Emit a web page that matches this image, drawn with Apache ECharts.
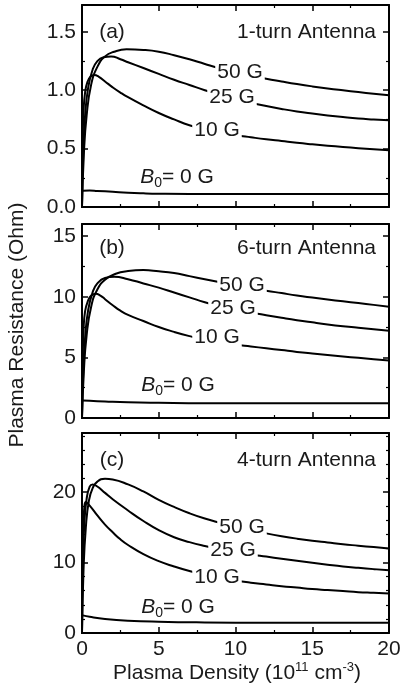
<!DOCTYPE html>
<html><head><meta charset="utf-8">
<script src="https://cdn.jsdelivr.net/npm/echarts@6/dist/echarts.min.js"></script>
<style>html,body{margin:0;padding:0;background:#fff}#c{width:404px;height:690px}</style>
</head><body><div id="c"></div>
<script>
// ---- data (x: plasma density 1e11 cm^-3, y: plasma resistance Ohm) ----
const xTicks = [0, 5, 10, 15, 20];
// panel (a) 1-turn antenna
const a0  = [[0.05,0.14],[0.5,0.142],[1,0.138],[2,0.13],[3,0.122],[4,0.117],[5,0.114],[7,0.112],[10,0.112],[20,0.112]];
const a10 = [[0,0],[0.04,0.55],[0.1,0.82],[0.2,0.98],[0.35,1.07],[0.55,1.115],[0.8,1.13],[1.1,1.115],[1.5,1.075],[2,1.025],[2.5,0.98],[3,0.94],[4,0.87],[5,0.805],[6,0.75],[7,0.70],[8,0.665],[9,0.637],[10,0.615],[11,0.597],[12,0.58],[13,0.565],[14,0.55],[15,0.537],[16,0.525],[17,0.514],[18,0.504],[19,0.495],[20,0.486]];
const a25 = [[0,0],[0.08,0.45],[0.2,0.78],[0.4,1.02],[0.7,1.18],[1.0,1.25],[1.4,1.283],[1.9,1.29],[2.5,1.265],[3,1.24],[4,1.19],[5,1.14],[6,1.09],[7,1.045],[8,1.0],[9,0.96],[10,0.925],[11,0.893],[12,0.865],[13,0.84],[14,0.818],[15,0.80],[16,0.784],[17,0.77],[18,0.758],[19,0.75],[20,0.743]];
const a50 = [[0,0],[0.12,0.45],[0.3,0.78],[0.6,1.05],[1.0,1.2],[1.5,1.29],[2.1,1.33],[2.9,1.35],[4,1.345],[5,1.33],[6,1.30],[7,1.265],[8,1.225],[9,1.187],[10,1.155],[11,1.125],[12,1.098],[13,1.075],[14,1.053],[15,1.033],[16,1.015],[17,0.999],[18,0.984],[19,0.970],[20,0.957]];
// panel (b) 6-turn antenna
const b0  = [[0.05,1.45],[0.5,1.42],[1.5,1.36],[3,1.29],[5,1.25],[8,1.22],[20,1.22]];
const b10 = [[0,0],[0.04,4.5],[0.1,7.2],[0.2,8.8],[0.4,9.7],[0.6,10.1],[0.9,10.25],[1.2,10.1],[1.5,9.8],[2,9.3],[2.5,8.85],[3,8.5],[4,8.0],[5,7.5],[6,7.1],[7,6.75],[8,6.45],[9,6.22],[10,6.05],[11,5.9],[12,5.75],[13,5.6],[14,5.45],[15,5.32],[16,5.2],[17,5.08],[18,4.96],[19,4.85],[20,4.75]];
const b25 = [[0,0],[0.08,3.8],[0.2,6.6],[0.4,8.9],[0.7,10.4],[1.0,11.1],[1.5,11.55],[2.1,11.65],[3,11.45],[4,11.1],[5,10.75],[6,10.35],[7,9.95],[8,9.55],[9,9.22],[10,8.95],[11,8.7],[12,8.48],[13,8.27],[14,8.07],[15,7.89],[16,7.72],[17,7.57],[18,7.44],[19,7.32],[20,7.2]];
const b50 = [[0,0],[0.12,3.8],[0.3,6.8],[0.6,9.2],[1.0,10.6],[1.5,11.4],[2.2,11.9],[3,12.12],[4,12.2],[5,12.1],[6,11.95],[7,11.7],[8,11.45],[9,11.2],[10,10.95],[11,10.72],[12,10.5],[13,10.3],[14,10.1],[15,9.93],[16,9.77],[17,9.62],[18,9.48],[19,9.33],[20,9.18]];
// panel (c) 4-turn antenna
const c0  = [[0.05,2.5],[0.5,2.3],[1.5,2.0],[3,1.75],[5,1.6],[8,1.5],[12,1.45],[20,1.45]];
const c10 = [[0,0],[0.03,10],[0.08,15],[0.15,17.8],[0.25,18.6],[0.5,18.1],[1,16.7],[1.5,15.4],[2,14.3],[2.5,13.3],[3,12.5],[4,11.2],[5,10.2],[6,9.45],[7,8.8],[8,8.25],[9,7.82],[10,7.45],[11,7.15],[12,6.9],[13,6.65],[14,6.45],[15,6.25],[16,6.1],[17,5.95],[18,5.8],[19,5.7],[20,5.6]];
const c25 = [[0,0],[0.06,10],[0.15,15.5],[0.3,19],[0.5,20.8],[0.7,21.1],[1,20.8],[1.5,19.9],[2,19.0],[3,17.4],[4,15.9],[5,14.6],[6,13.6],[7,12.9],[8,12.35],[9,11.9],[10,11.5],[11,11.15],[12,10.85],[13,10.55],[14,10.25],[15,9.97],[16,9.7],[17,9.45],[18,9.25],[19,9.07],[20,8.9]];
const c50 = [[0,0],[0.1,9],[0.25,15],[0.45,18.8],[0.7,20.6],[1.0,21.5],[1.5,21.9],[2,21.8],[3,21.1],[4,20.1],[5,18.9],[6,17.9],[7,17.0],[8,16.25],[9,15.65],[10,15.1],[11,14.6],[12,14.15],[13,13.75],[14,13.4],[15,13.1],[16,12.85],[17,12.6],[18,12.4],[19,12.2],[20,12.0]];

const panels = [
  {tag:'(a)', name:'1-turn Antenna', series:[a0,a10,a25,a50], ymax:1.73, interval:0.5, minor:2, digits:1, top:5, height:202},
  {tag:'(b)', name:'6-turn Antenna', series:[b0,b10,b25,b50], ymax:16, interval:5, minor:2, digits:0, top:224, height:194},
  {tag:'(c)', name:'4-turn Antenna', series:[c0,c10,c25,c50], ymax:28.4, interval:10, minor:5, digits:0, top:433, height:200}
];
const fieldLabels = ['B0', '10 G', '25 G', '50 G'];

const FONT = 'Liberation Sans, Arial, sans-serif';
const FS = 21;
const chart = echarts.init(document.getElementById('c'), null, {renderer:'canvas'});

const grid = [], xAxis = [], yAxis = [], series = [], graphic = [];
const lineStyle = {color:'#000', width:2};
const tick = {show:true, inside:true, length:6, lineStyle:{color:'#000', width:1.5}};
const mtick = (n)=>({show:true, splitNumber:n, length:3, lineStyle:{color:'#000', width:1.2}});

panels.forEach((p, i) => {
  grid.push({left:82, top:p.top, width:307, height:p.height});
  const last = i === panels.length - 1;
  xAxis.push({gridIndex:i, type:'value', min:0, max:20, interval:5, position:'bottom',
    axisLine:{onZero:false, lineStyle}, axisTick:tick, minorTick:mtick(2), splitLine:{show:false},
    axisLabel:{show:last, margin:6, color:'#1a1a1a', fontFamily:FONT, fontSize:FS}});
  xAxis.push({gridIndex:i, type:'value', min:0, max:20, interval:5, position:'top',
    axisLine:{onZero:false, lineStyle}, axisTick:tick, minorTick:mtick(2), splitLine:{show:false},
    axisLabel:{show:false}});
  yAxis.push({gridIndex:i, type:'value', min:0, max:p.ymax, interval:p.interval, position:'left',
    axisLine:{onZero:false, lineStyle}, axisTick:tick, minorTick:mtick(p.minor), splitLine:{show:false},
    axisLabel:{margin:6, color:'#1a1a1a', fontFamily:FONT, fontSize:FS, showMaxLabel:false,
      formatter:(v)=>v.toFixed(p.digits)}});
  yAxis.push({gridIndex:i, type:'value', min:0, max:p.ymax, interval:p.interval, position:'right',
    axisLine:{onZero:false, lineStyle}, axisTick:tick, minorTick:mtick(p.minor), splitLine:{show:false},
    axisLabel:{show:false}});
  p.series.forEach((d, k) => {
    series.push({type:'line', name:p.tag+fieldLabels[k], xAxisIndex:2*i, yAxisIndex:2*i, data:d,
      showSymbol:false, smooth:0.5, clip:true,
      lineStyle:{color:'#000', width:2, cap:'round', join:'round'}, silent:true, z:2});
  });
});

// annotation positions (pixel centres)
const annot = [
  {tag:[112,32],  ant:[376,32],  g50:[240,72],  g25:[232,97],  g10:[217,130], b0:[177,177]},
  {tag:[112,248], ant:[376,248], g50:[242,285], g25:[233,308], g10:[217,337], b0:[178,385]},
  {tag:[112,460], ant:[376,460], g50:[242,527], g25:[233,550], g10:[217,577], b0:[178,607]}
];
const txt = (x, y, text, align, extra) => ({type:'text', x, y, z:100, silent:true,
  style:Object.assign({text, font:FS+'px '+FONT, fill:'#1a1a1a', textAlign:align||'center', textVerticalAlign:'middle'}, extra||{})});
const white = {backgroundColor:'#fff', padding:[1,2,1,2]};
annot.forEach((a, i) => {
  graphic.push(txt(a.tag[0], a.tag[1], panels[i].tag));
  graphic.push(txt(a.ant[0], a.ant[1], panels[i].name, 'right'));
  graphic.push(txt(a.g50[0], a.g50[1], '50 G', 'center', white));
  graphic.push(txt(a.g25[0], a.g25[1], '25 G', 'center', white));
  graphic.push(txt(a.g10[0], a.g10[1], '10 G', 'center', white));
  graphic.push({type:'text', x:a.b0[0], y:a.b0[1], z:100, silent:true,
    style:{text:'{i|B}{s|0}{n|= 0 G}', textAlign:'center', textVerticalAlign:'middle', fill:'#1a1a1a',
      rich:{i:{fontFamily:FONT, fontSize:FS, fontStyle:'italic', fill:'#1a1a1a', lineHeight:26, verticalAlign:'middle'},
            s:{fontFamily:FONT, fontSize:14, fill:'#1a1a1a', lineHeight:26, verticalAlign:'bottom'},
            n:{fontFamily:FONT, fontSize:FS, fill:'#1a1a1a', lineHeight:26, verticalAlign:'middle'}}}});
});
// axis titles
graphic.push({type:'text', x:237, y:673, z:100, silent:true,
  style:{text:'Plasma Density (10{s|11} cm{s|-3})', font:FS+'px '+FONT, fill:'#1a1a1a', textAlign:'center', textVerticalAlign:'middle',
    rich:{s:{fontFamily:FONT, fontSize:13, fill:'#1a1a1a', verticalAlign:'top', lineHeight:24}}}});
graphic.push({type:'text', x:17, y:325, rotation:Math.PI/2, z:100, silent:true,
  style:{text:'Plasma Resistance (Ohm)', font:FS+'px '+FONT, fill:'#1a1a1a', textAlign:'center', textVerticalAlign:'middle'}});

chart.setOption({animation:false, backgroundColor:'#fff', grid, xAxis, yAxis, series, graphic});
</script></body></html>
